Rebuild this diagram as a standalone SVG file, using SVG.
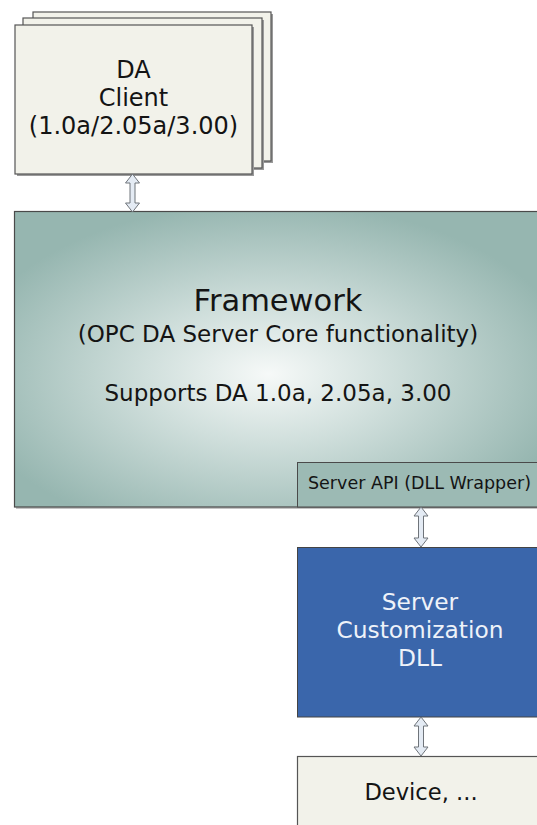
<svg xmlns="http://www.w3.org/2000/svg" width="537" height="825" viewBox="0 0 537 825">
  <defs>
    <radialGradient id="fwGrad" cx="0.48" cy="0.55" r="0.58">
      <stop offset="0" stop-color="#f6f9f8"/>
      <stop offset="0.4" stop-color="#d0dfdc"/>
      <stop offset="1" stop-color="#96b6b0"/>
    </radialGradient>
    <style>
      .card { fill: #f2f2ea; stroke: #555; stroke-width: 1.2; }
      .shadow { fill: #9a9a9a; }
      .fw { fill: url(#fwGrad); stroke: #4a4a4a; stroke-width: 1.2; }
      .api { fill: #9cbab4; stroke: #4a4a4a; stroke-width: 1; }
      .dll { fill: #3a66ab; stroke: #444; stroke-width: 1; }
      .dev { fill: #f2f2ea; stroke: #555; stroke-width: 1.2; }
      .arrow { fill: #e4ebf4; stroke: #6f747a; stroke-width: 1; stroke-linejoin: miter; }
      text { font-family: "DejaVu Sans", "Noto Sans", sans-serif; text-anchor: middle; fill: #141414; }
      .light { fill: #eef2f9; }
    </style>
  </defs>

  <!-- DA client: three stacked cards -->
  <g id="da-client">
    <rect class="shadow" x="35" y="14" width="238" height="149"/>
    <rect class="card" x="33" y="12" width="238" height="149"/>
    <rect class="shadow" x="25" y="20" width="239" height="150"/>
    <rect class="card" x="23" y="18" width="239" height="150"/>
    <rect class="shadow" x="17" y="27" width="237" height="149"/>
    <rect class="card" x="15" y="25" width="237" height="149"/>
    <text x="133.5" y="78" font-size="24">DA</text>
    <text x="133.5" y="106" font-size="24">Client</text>
    <text x="133.5" y="134" font-size="24">(1.0a/2.05a/3.00)</text>
  </g>

  <!-- Framework core block -->
  <g id="framework">
    <rect fill="#c4c4c4" x="16" y="213" width="530" height="296"/>
    <rect class="fw" x="14.5" y="211.5" width="530" height="295.5"/>
    <text x="278" y="311" font-size="30.5">Framework</text>
    <text x="278" y="342" font-size="23">(OPC DA Server Core functionality)</text>
    <text x="278" y="401" font-size="23">Supports DA 1.0a, 2.05a, 3.00</text>
  </g>

  <!-- Server API wrapper inside the framework -->
  <g id="server-api">
    <rect class="api" x="297.5" y="462.5" width="250" height="44.5"/>
    <text x="419.5" y="489" font-size="17.5">Server API (DLL Wrapper)</text>
  </g>

  <!-- Customization DLL -->
  <g id="customization-dll">
    <rect class="dll" x="297.5" y="547.5" width="250" height="169.5"/>
    <text class="light" x="420" y="610" font-size="23.3">Server</text>
    <text class="light" x="420" y="638" font-size="23.3">Customization</text>
    <text class="light" x="420" y="666" font-size="23.3">DLL</text>
  </g>

  <!-- Device -->
  <g id="device">
    <rect class="dev" x="297.5" y="756.5" width="250" height="80"/>
    <text x="421" y="800" font-size="22.6">Device, ...</text>
  </g>

  <!-- Connectors: double-headed block arrows -->
  <g id="connectors">
    <path class="arrow" d="M132.5,174 L139.5,183 L135,183 L135,203 L139.5,203 L132.5,212 L125.5,203 L130,203 L130,183 L125.5,183 Z"/>
    <path class="arrow" d="M421,507 L428,516 L423.5,516 L423.5,538 L428,538 L421,547 L414,538 L418.5,538 L418.5,516 L414,516 Z"/>
    <path class="arrow" d="M421,717 L428,726 L423.5,726 L423.5,747 L428,747 L421,756 L414,747 L418.5,747 L418.5,726 L414,726 Z"/>
  </g>
</svg>
